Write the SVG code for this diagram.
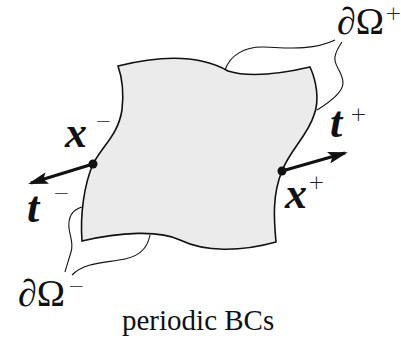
<svg xmlns="http://www.w3.org/2000/svg" width="401" height="340" viewBox="0 0 401 340">
<style>
.bm{font-family:"Liberation Serif",serif;font-style:italic;font-weight:bold;font-size:44px;fill:#111}
.sup{font-family:"DejaVu Sans",sans-serif;font-weight:200;font-size:20px;fill:#222}
.lab{font-family:"Liberation Serif",serif;font-size:38px;fill:#111}
.cap{font-family:"Liberation Serif",serif;font-size:29px;fill:#111}
.br{fill:none;stroke:#111;stroke-width:1.1}
.arr{stroke:#111;stroke-width:3.2;fill:none}
</style>
<defs>
<marker id="ah" viewBox="0 0 20 12" refX="17" refY="6" markerWidth="20" markerHeight="12" markerUnits="userSpaceOnUse" orient="auto">
<path d="M0,0 L20,6 L0,12 L4,6 Z" fill="#111"/>
</marker>
</defs>
<g id="domain">
<path d="M118,66 C150,58 195,52 228,71 C250,78 280,74 310,67 C316,80 320,100 314,115 C308,135 290,150 282,171 C272,195 274,220 276,242 C240,252 205,252 180,240 C160,230 120,232 82,241 C80,215 84,185 93,164 C103,145 118,135 122,110 C124,92 123,80 118,66 Z" fill="#ebebeb" stroke="#111" stroke-width="1.6"/>
</g>
<g id="connectors">
<path class="br" d="M225,70 C230,55 245,47 262,47 C280,47 310,52 335,40"/>
<path class="br" d="M317,110 C330,102 343,92 343,83 C343,72 333,65 335,57 C336,50 340,45 342,42"/>
<path class="br" d="M82,207 C72,210 68,218 69,228 C70,238 74,243 71,252 C68,262 66,268 65,272"/>
<path class="br" d="M150,235 C148,245 143,255 125,259 C105,263 85,262 72,275"/>
<line class="arr" x1="93" y1="164" x2="31" y2="183" marker-end="url(#ah)"/>
<line class="arr" x1="282" y1="171" x2="345" y2="153" marker-end="url(#ah)"/>
</g>
<g id="x-minus">
<circle cx="93" cy="164" r="4.5" fill="#111"/>
<text class="bm" x="65" y="147">x</text>
<text class="sup" x="95" y="128">−</text>
</g>
<g id="x-plus">
<circle cx="282" cy="171" r="4.5" fill="#111"/>
<text class="bm" x="285" y="208">x</text>
<text class="sup" x="308" y="189">+</text>
</g>
<g id="t-minus">
<text class="bm" x="27" y="222">t</text>
<text class="sup" x="53" y="200">−</text>
</g>
<g id="t-plus">
<text class="bm" x="330" y="137">t</text>
<text class="sup" x="350" y="121">+</text>
</g>
<g id="omega-plus">
<text class="lab" x="337" y="34">∂Ω</text>
<text class="sup" x="385" y="20">+</text>
</g>
<g id="omega-minus">
<text class="lab" x="18" y="306">∂Ω</text>
<text class="sup" x="68" y="293">−</text>
</g>
<g id="caption">
<text class="cap" x="122" y="330">periodic BCs</text>
</g>
</svg>
